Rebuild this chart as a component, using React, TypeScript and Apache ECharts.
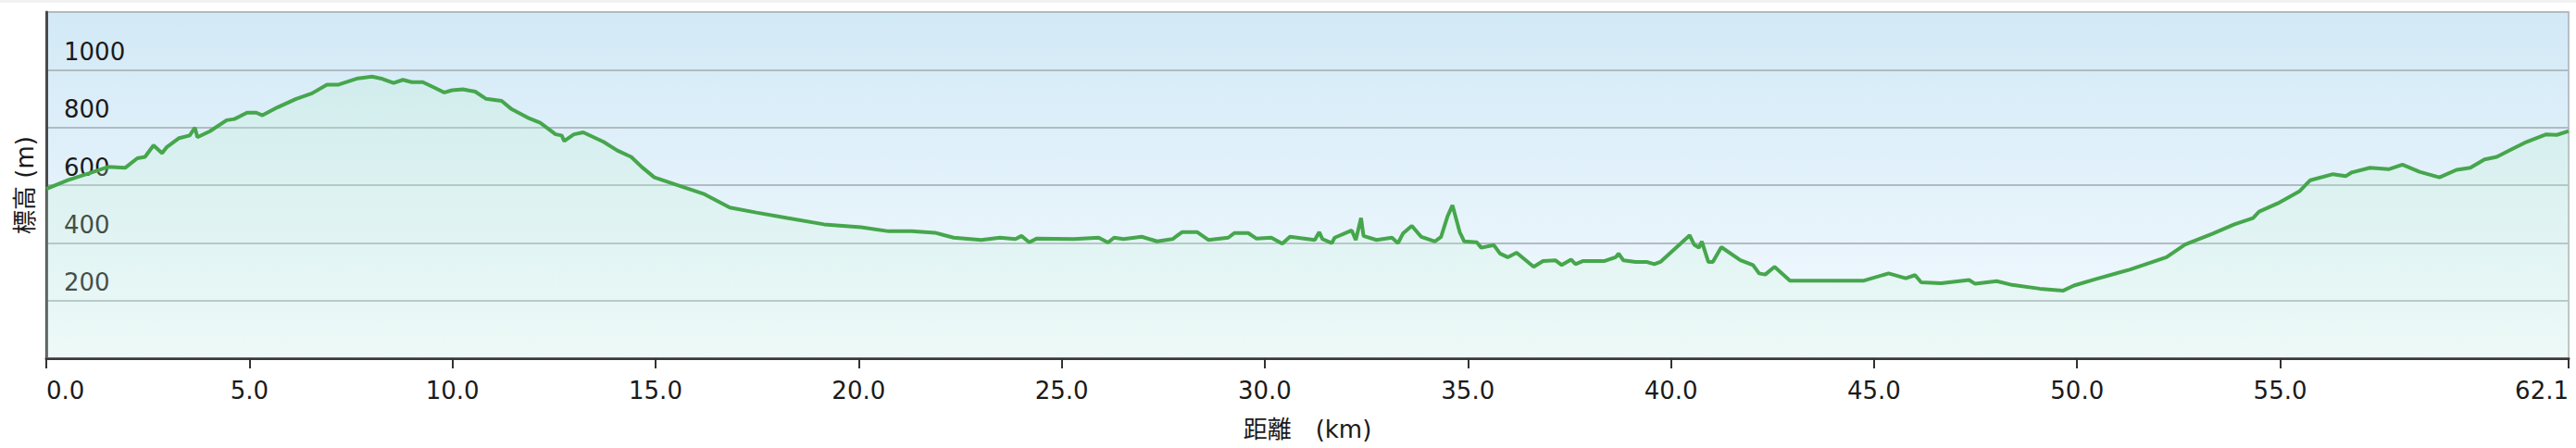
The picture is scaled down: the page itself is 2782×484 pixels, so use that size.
import React, { useEffect, useRef } from "react";
import * as echarts from "echarts";

const distanceKm = [
  0.0, 0.53, 0.99, 1.52, 1.94, 2.24, 2.43, 2.64, 2.85, 2.96, 3.27, 3.53, 3.66, 3.72, 4.03, 4.44, 4.63, 4.94, 5.17, 5.32,
  5.7, 6.15, 6.54, 6.91, 7.18, 7.67, 8.02, 8.28, 8.55, 8.78, 9.0, 9.27, 9.57, 9.8, 9.99, 10.26, 10.56, 10.83, 11.21, 11.44,
  11.85, 12.16, 12.54, 12.69, 12.75, 12.99, 13.22, 13.72, 14.06, 14.4, 14.66, 14.97, 15.58, 16.18, 16.83, 17.48, 18.24, 19.15, 20.06, 20.74,
  21.31, 21.88, 22.34, 23.02, 23.48, 23.86, 24.01, 24.2, 24.39, 25.3, 25.91, 26.14, 26.29, 26.52, 26.97, 27.35, 27.73, 27.96, 28.34, 28.61,
  29.1, 29.25, 29.59, 29.79, 30.16, 30.43, 30.62, 31.23, 31.34, 31.42, 31.65, 31.72, 32.14, 32.24, 32.37, 32.43, 32.75, 33.13, 33.28, 33.4,
  33.62, 33.85, 34.19, 34.34, 34.5, 34.62, 34.8, 34.91, 35.22, 35.33, 35.64, 35.79, 35.98, 36.2, 36.62, 36.85, 37.16, 37.31, 37.54, 37.65,
  37.84, 38.37, 38.64, 38.71, 38.83, 39.13, 39.4, 39.59, 39.74, 40.46, 40.57, 40.69, 40.76, 40.92, 41.03, 41.24, 41.71, 42.02, 42.17, 42.32,
  42.55, 42.93, 44.75, 45.36, 45.78, 46.01, 46.16, 46.65, 47.34, 47.49, 48.02, 48.4, 49.08, 49.65, 49.92, 50.45, 51.29, 52.2, 52.66, 53.34,
  53.87, 54.33, 54.48, 54.94, 55.47, 55.74, 56.3, 56.61, 56.76, 57.21, 57.67, 58.01, 58.43, 58.92, 59.34, 59.68, 60.03, 60.33, 60.71, 61.02,
  61.55, 61.81, 62.1,
];

const elevationM = [
  587, 617, 638, 663, 660, 693, 698, 738, 711, 731, 763, 772, 799, 766, 787, 825, 829, 851, 851, 842,
  870, 899, 918, 948, 948, 970, 976, 968, 954, 965, 957, 957, 937, 921, 929, 932, 924, 899, 892, 865,
  834, 816, 776, 772, 753, 776, 783, 750, 720, 698, 663, 627, 598, 570, 522, 505, 486, 464, 454, 440,
  440, 435, 418, 410, 418, 413, 424, 402, 415, 413, 418, 401, 418, 413, 421, 405, 413, 437, 437, 410,
  418, 434, 434, 415, 418, 397, 421, 410, 437, 413, 399, 418, 443, 410, 486, 424, 410, 418, 399, 432,
  459, 421, 405, 421, 492, 530, 437, 405, 402, 383, 392, 363, 350, 366, 317, 337, 339, 323, 342, 326,
  337, 337, 350, 363, 339, 334, 334, 326, 334, 426, 394, 383, 405, 334, 334, 385, 340, 323, 294, 290,
  317, 269, 269, 294, 277, 288, 263, 260, 271, 258, 267, 254, 241, 234, 252, 274, 307, 350, 394, 432,
  464, 486, 508, 537, 578, 617, 638, 631, 644, 660, 655, 671, 646, 627, 653, 660, 689, 698, 725, 747,
  776, 774, 787,
];

const xTickValues = [0, 5, 10, 15, 20, 25, 30, 35, 40, 45, 50, 55, 62.1];
const yTickValues = [200, 400, 600, 800, 1000];

const xAxisName = "距離　(km)";
const yAxisName = "標高 (m)";

const FONT = "'DejaVu Sans', 'Noto Sans CJK JP', sans-serif";

export default function App() {
  const ref = useRef<HTMLDivElement>(null);

  useEffect(() => {
    if (!ref.current) return;
    const chart = echarts.init(ref.current, null, { renderer: "svg" });
    const data = distanceKm.map((d, i) => [d, elevationM[i]]);
    chart.setOption({
      animation: false,
      backgroundColor: "#ffffff",
      graphic: [
        {
          type: "rect",
          left: 0,
          top: 0,
          shape: { width: 2782, height: 3 },
          style: { fill: "#f2f2f2" },
          silent: true,
        },
      ],
      grid: {
        left: 50,
        right: 8,
        top: 13,
        bottom: 97,
        show: true,
        borderColor: "#b9bfc4",
        borderWidth: 2,
        backgroundColor: new echarts.graphic.LinearGradient(0, 0, 0, 1, [
          { offset: 0, color: "#d2e9f6" },
          { offset: 1, color: "#f4faff" },
        ]),
      },
      xAxis: {
        type: "value",
        min: 0,
        max: 62.1,
        interval: 5,
        name: xAxisName,
        nameLocation: "middle",
        nameGap: 64,
        nameTextStyle: { fontSize: 26, color: "#1a1a1a", fontFamily: FONT },
        axisLine: { show: true, onZero: false, lineStyle: { color: "#3a3a3a", width: 3 } },
        axisTick: {
          show: true,
          length: 11,
          lineStyle: { color: "#333", width: 2 },
          customValues: xTickValues,
        },
        axisLabel: {
          show: true,
          customValues: xTickValues,
          margin: 22,
          fontSize: 26,
          color: "#1a1a1a",
          fontFamily: FONT,
          alignMinLabel: "left",
          alignMaxLabel: "right",
          formatter: (v: number) => v.toFixed(1),
        },
        splitLine: { show: false },
      },
      yAxis: {
        type: "value",
        min: 0,
        max: 1200,
        interval: 200,
        name: yAxisName,
        nameLocation: "middle",
        nameGap: 10,
        nameTextStyle: { fontSize: 26, color: "#1a1a1a", fontFamily: FONT },
        axisLine: { show: true, lineStyle: { color: "#4a4a4a", width: 3 } },
        axisTick: { show: false },
        axisLabel: {
          show: true,
          inside: true,
          customValues: yTickValues,
          hideOverlap: false,
          margin: 19,
          fontSize: 26,
          lineHeight: 39,
          verticalAlign: "bottom",
          color: "#1a1a1a",
          fontFamily: FONT,
          formatter: (v: number) => String(v),
        },
        splitLine: { show: true, lineStyle: { color: "#b0bbc2", width: 2 } },
      },
      series: [
        {
          type: "line",
          data,
          showSymbol: false,
          symbol: "none",
          lineStyle: { color: "#46a64c", width: 4 },
          areaStyle: {
            color: new echarts.graphic.LinearGradient(0, 0, 0, 1, [
              { offset: 0, color: "rgba(185,238,200,0.32)" },
              { offset: 1, color: "rgba(215,248,225,0.35)" },
            ]),
          },
        },
      ],
    });
    return () => chart.dispose();
  }, []);

  return (
    <div
      ref={ref}
      style={{ position: "fixed", left: 0, top: 0, width: 2782, height: 484 }}
    />
  );
}
